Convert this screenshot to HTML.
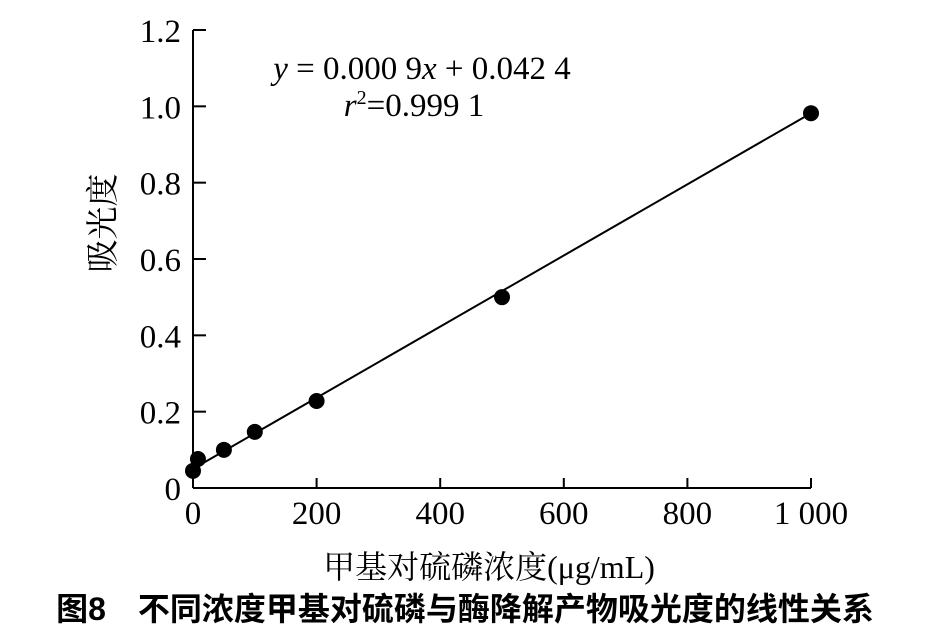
<!DOCTYPE html>
<html><head><meta charset="utf-8"><style>
html,body{margin:0;padding:0;background:#fff;}
svg text{font-family:"Liberation Serif","Noto Serif CJK SC",serif;fill:#000;}
</style></head><body>
<svg width="946" height="628" viewBox="0 0 946 628" xmlns="http://www.w3.org/2000/svg">
<g id="axes"></g>
<g id="marks"></g>
<text x="422" y="79" font-size="33" text-anchor="middle"><tspan font-style="italic">y</tspan> = 0.000 9<tspan font-style="italic">x</tspan> + 0.042 4</text>
<text x="414" y="116" font-size="33" text-anchor="middle"><tspan font-style="italic">r</tspan><tspan font-size="20" dy="-12">2</tspan><tspan dy="12">=0.999 1</tspan></text>
<text x="0" y="0" font-size="33" text-anchor="middle" transform="translate(114,223) rotate(-90)">吸光度</text>
<text x="489" y="578" font-size="32" text-anchor="middle">甲基对硫磷浓度(μg/mL)</text>
<text x="465" y="620" font-size="32" font-weight="bold" text-anchor="middle" style="font-family:'Liberation Sans','Noto Sans CJK SC',sans-serif">图8　不同浓度甲基对硫磷与酶降解产物吸光度的线性关系</text>
</svg>
<script>
const xTicks=[0,200,400,600,800,1000];
const xTickLabels=["0","200","400","600","800","1 000"];
const yTicks=[0,0.2,0.4,0.6,0.8,1.0,1.2];
const yTickLabels=["0","0.2","0.4","0.6","0.8","1.0","1.2"];
const concentrations=[0,8,50,100,200,500,1000];
const absorbance=[0.045,0.076,0.1,0.147,0.228,0.5,0.982];
const fitX=[0,1000];
const fitY=[0.05,0.982];
const NS="http://www.w3.org/2000/svg";
const X0=193,X1=811,Y0=488,Y1=30;
function sx(v){return X0+(v-0)/(1000-0)*(X1-X0);}
function sy(v){return Y0-(v-0)/(1.2-0)*(Y0-Y1);}
function mk(tag,attrs,parent){const e=document.createElementNS(NS,tag);for(const k in attrs)e.setAttribute(k,attrs[k]);parent.appendChild(e);return e;}
const axes=document.getElementById('axes'),marks=document.getElementById('marks');
let l=mk('line',{x1:X0,y1:Y1,x2:X0,y2:Y0,stroke:'#000','stroke-width':2},axes);


l=mk('line',{x1:X0,y1:Y0,x2:X1,y2:Y0,stroke:'#000','stroke-width':2},axes);


xTicks.forEach((v,i)=>{
 const t=mk('line',{x1:sx(v),y1:Y0,x2:sx(v),y2:Y0-10,stroke:'#000','stroke-width':2},axes);
 
 
 const tx=mk('text',{x:sx(v),y:Y0+36,'font-size':33,'text-anchor':'middle'},axes);
 tx.textContent=xTickLabels[i];
 
 
});
yTicks.forEach((v,i)=>{
 const t=mk('line',{x1:X0,y1:sy(v),x2:X0+13,y2:sy(v),stroke:'#000','stroke-width':2},axes);
 
 
 const tx=mk('text',{x:X0-12,y:sy(v)+12,'font-size':33,'text-anchor':'end'},axes);
 tx.textContent=yTickLabels[i];
 
 
});
const fl=mk('line',{x1:sx(fitX[0]),y1:sy(fitY[0]),x2:sx(fitX[1]),y2:sy(fitY[1]),stroke:'#000','stroke-width':2},marks);


concentrations.forEach((c,i)=>{
 const p=mk('circle',{cx:sx(c),cy:sy(absorbance[i]),r:8,fill:'#000'},marks);
 
 
});
</script>
</body></html>
